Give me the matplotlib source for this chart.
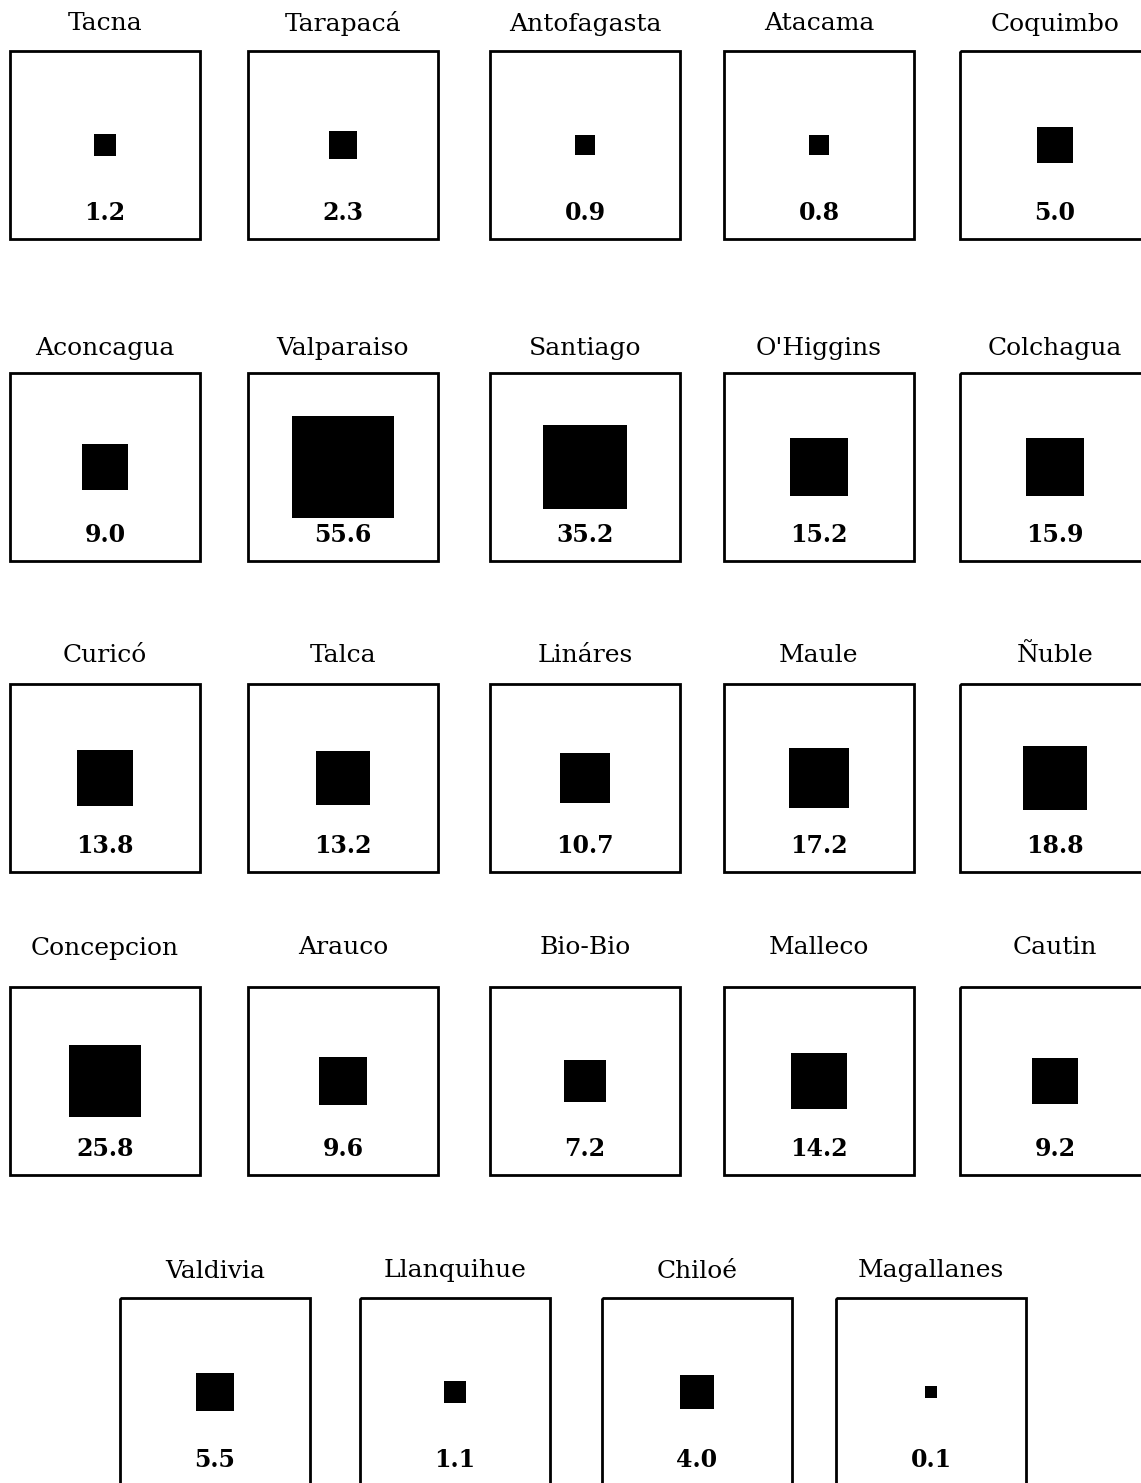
import numpy as np
import matplotlib
matplotlib.use("Agg")
from matplotlib import pyplot as plt
from matplotlib.patches import Rectangle

# provinces, north to south, and their values
rows = [
    ["Tacna", "Tarapacá", "Antofagasta", "Atacama", "Coquimbo"],
    ["Aconcagua", "Valparaiso", "Santiago", "O'Higgins", "Colchagua"],
    ["Curicó", "Talca", "Lináres", "Maule", "Ñuble"],
    ["Concepcion", "Arauco", "Bio-Bio", "Malleco", "Cautin"],
    ["Valdivia", "Llanquihue", "Chiloé", "Magallanes"],
]
values = [
    [1.2, 2.3, 0.9, 0.8, 5.0],
    [9.0, 55.6, 35.2, 15.2, 15.9],
    [13.8, 13.2, 10.7, 17.2, 18.8],
    [25.8, 9.6, 7.2, 14.2, 9.2],
    [5.5, 1.1, 4.0, 0.1],
]

# layout (pixels)
W, H = 1141, 1483
box_w, box_h = 190, 188
col_left = [10, 248, 490, 724, 960]
col_left_last = [120, 360, 602, 836]
row_top = [51, 373, 684, 987, 1298]
title_y = [24, 348, 655, 948, 1271]

plt.rcParams['font.family'] = ['DejaVu Serif']
fig = plt.figure(figsize=(W / 100, H / 100), dpi=100)
ax = fig.add_axes([0, 0, 1, 1])
ax.set_xlim(0, W)
ax.set_ylim(H, 0)
ax.axis("off")

for r, (names, vals) in enumerate(zip(rows, values)):
    lefts = col_left if len(names) == 5 else col_left_last
    top = row_top[r]
    for x0, name, v in zip(lefts, names, vals):
        cx = x0 + box_w / 2
        ax.add_patch(Rectangle((x0, top), box_w, box_h, fill=False,
                               edgecolor="black", linewidth=2))
        # square area proportional to the value
        side = 9 + 12.5 * np.sqrt(v)
        cy = top + 94
        ax.add_patch(Rectangle((cx - side / 2, cy - side / 2), side, side,
                               facecolor="black", edgecolor="none"))
        ax.text(cx, title_y[r], name, ha="center", va="center", fontsize=18)
        ax.text(cx, top + 162, f"{v:.1f}", ha="center", va="center",
                fontsize=17, fontweight="bold")

fig.savefig("out.png", dpi=100, facecolor="white")
